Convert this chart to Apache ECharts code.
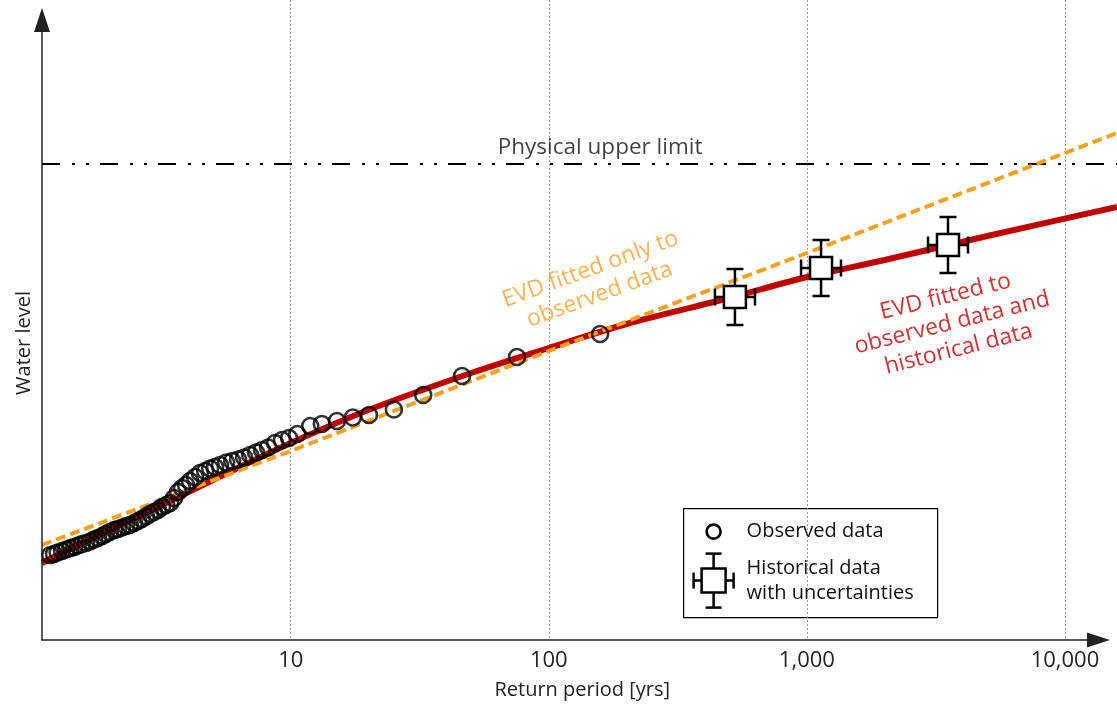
<!DOCTYPE html>
<html><head><meta charset="utf-8">
<script src="https://cdn.jsdelivr.net/npm/echarts@6/dist/echarts.min.js"></script>
<style>html,body{margin:0;padding:0;background:#fff}#c{width:1117px;height:714px}</style>
</head><body><div id="c"></div>
<script>
// ---- data (return period in years, water level in arbitrary units) ----
const obsPeriod = [1.17,1.21,1.25,1.3,1.35,1.4,1.45,1.5,1.55,1.61,
  1.67,1.73,1.79,1.86,1.92,1.99,2.07,2.14,2.22,2.3,
  2.38,2.47,2.56,2.65,2.75,2.85,2.95,3.06,3.17,3.29,
  3.41,3.53,3.66,3.79,3.93,4.07,4.26,4.45,4.66,4.87,
  5.09,5.32,5.62,5.93,6.25,6.6,6.96,7.34,7.74,8.17,
  8.69,9.25,9.85,10.6,11.9,13.2,15.1,17.4,20.1,25.1,
  32.6,46.1,75.3,158];
const obsLevel = [0.85,0.86,0.875,0.89,0.905,0.92,0.93,0.945,0.96,0.97,
  0.985,1.005,1.02,1.04,1.06,1.08,1.10,1.11,1.125,1.14,
  1.15,1.17,1.19,1.21,1.235,1.26,1.28,1.30,1.33,1.35,
  1.37,1.42,1.48,1.52,1.55,1.59,1.63,1.67,1.69,1.715,
  1.73,1.75,1.775,1.79,1.805,1.825,1.85,1.875,1.90,1.925,
  1.97,2.00,2.02,2.06,2.14,2.16,2.19,2.225,2.25,2.305,
  2.45,2.64,2.83,3.06];

const histPeriod = [526, 1134, 3520];
const histPeriodLow = [440, 949, 2946];
const histPeriodHigh = [629, 1355, 4208];
const histLevel = [3.43, 3.72, 3.95];
const histLevelErr = [0.28, 0.28, 0.28];

const fitBothPeriod = [1.087, 1.5, 2, 3, 5, 10, 20, 50, 100, 200, 500, 1000, 2000, 5000, 15900];
const fitBothLevel = [0.77, 0.95, 1.105, 1.32, 1.60, 1.97, 2.30, 2.67, 2.92, 3.16, 3.42, 3.63, 3.80, 4.04, 4.33];

const fitObsPeriod = [1.087, 10, 100, 1000, 10000, 15900];
const fitObsLevel = [0.95, 1.89, 2.89, 3.87, 4.87, 5.07];

const upperLimitLevel = 4.76;
const upperLimitSpan = [1.087, 15900];

// visible axis range (ends at the arrow) and full plotting range (to the picture edge)
const xAxisRange = [1.087, 13490];
const xPlotRange = [1.087, 15900];
const yAxisRange = [0, 6.2];
const yPlotRange = [0, 6.4];

const annotationText = ['Physical upper limit', 'EVD fitted only to\nobserved data', 'EVD fitted to\nobserved data and\nhistorical data'];
const annotationPeriod = [158, 151, 3650];
const annotationLevel = [4.92, 3.58, 3.17];

// ---- styling ----
const FONT = "'Open Sans', 'Noto Sans', sans-serif";
const RED = '#C00000';
const ORANGE = '#F4A020';
const ORANGE_TEXT = '#F0A030';

const chart = echarts.init(document.getElementById('c'), null, {renderer: 'canvas'});

const annotationStyles = [
  {color: '#111', rotate: 0, size: 22.5},
  {color: ORANGE_TEXT, rotate: 20, size: 23},
  {color: RED, rotate: 14, size: 23}
];

const option = {
  backgroundColor: '#fff',
  animation: false,
  grid: [
    {left: 42, right: 18.5, top: 20, bottom: 74, containLabel: false, outerBoundsMode: 'none'},
    {left: 42, right: 0, top: 0, bottom: 74, containLabel: false, outerBoundsMode: 'none'}
  ],
  xAxis: [
    {
      gridIndex: 0, type: 'log', logBase: 10, min: xAxisRange[0], max: xAxisRange[1], z: 10,
      name: 'Return period [yrs]', nameLocation: 'middle', nameGap: 40,
      nameTextStyle: {fontFamily: FONT, fontSize: 20, color: '#222', padding: [0, 0, 0, 24]},
      axisLine: {show: true, onZero: false, symbol: ['none', 'triangle'], symbolSize: [15, 23],
        lineStyle: {color: '#222', width: 1.5}},
      axisTick: {show: false},
      axisLabel: {fontFamily: FONT, fontSize: 22, color: '#222', margin: 10,
        showMinLabel: false, showMaxLabel: false,
        formatter: v => Math.round(v).toLocaleString('en-US')},
      splitLine: {show: false}
    },
    {
      gridIndex: 1, type: 'log', logBase: 10, min: xPlotRange[0], max: xPlotRange[1],
      axisLine: {show: false}, axisTick: {show: false}, axisLabel: {show: false},
      splitLine: {show: true, showMinLine: false, showMaxLine: false,
        lineStyle: {color: '#9a9a9a', type: [2, 2], width: 1}}
    }
  ],
  yAxis: [
    {
      gridIndex: 0, type: 'value', min: yAxisRange[0], max: yAxisRange[1], z: 10,
      name: 'Water level', nameLocation: 'middle', nameGap: 8,
      nameTextStyle: {fontFamily: FONT, fontSize: 20, color: '#222', padding: [0, 26, 0, 0]},
      axisLine: {show: true, onZero: false, symbol: ['none', 'triangle'], symbolSize: [16, 24],
        lineStyle: {color: '#222', width: 1.5}},
      axisTick: {show: false},
      axisLabel: {show: false},
      splitLine: {show: false}
    },
    {
      gridIndex: 1, type: 'value', min: yPlotRange[0], max: yPlotRange[1],
      axisLine: {show: false}, axisTick: {show: false}, axisLabel: {show: false}, splitLine: {show: false}
    }
  ],
  series: [
    {
      name: 'Physical upper limit', type: 'line', xAxisIndex: 1, yAxisIndex: 1, clip: false, symbol: 'none', z: 2,
      data: upperLimitSpan.map(t => [t, upperLimitLevel]),
      lineStyle: {color: '#000', width: 2, type: [18, 12, 3, 11, 3, 11]}
    },
    {
      name: 'EVD fitted to observed data and historical data', type: 'line', xAxisIndex: 1, yAxisIndex: 1,
      clip: false, symbol: 'none', smooth: 0.3, z: 3,
      data: fitBothPeriod.map((t, i) => [t, fitBothLevel[i]]),
      lineStyle: {color: RED, width: 6}
    },
    {
      name: 'EVD fitted only to observed data', type: 'line', xAxisIndex: 1, yAxisIndex: 1,
      clip: false, symbol: 'none', z: 4,
      data: fitObsPeriod.map((t, i) => [t, fitObsLevel[i]]),
      lineStyle: {color: ORANGE, width: 4, type: [10, 5]}
    },
    {
      name: 'Observed data', type: 'scatter', xAxisIndex: 1, yAxisIndex: 1, z: 5,
      symbol: 'circle', symbolSize: 16,
      data: obsPeriod.map((t, i) => [t, obsLevel[i]]),
      itemStyle: {color: 'rgba(0,0,0,0)', borderColor: '#000', borderWidth: 2.6}
    },
    {
      name: 'Historical data with uncertainties', type: 'custom', xAxisIndex: 1, yAxisIndex: 1, z: 6,
      dimensions: ['period', 'level', 'low', 'high', 'err'],
      encode: {x: 0, y: 1},
      data: histPeriod.map((t, i) => [t, histLevel[i], histPeriodLow[i], histPeriodHigh[i], histLevelErr[i]]),
      renderItem: function (params, api) {
        const t = api.value(0), l = api.value(1), lo = api.value(2), hi = api.value(3), e = api.value(4);
        const c = api.coord([t, l]);
        const pL = api.coord([lo, l]), pR = api.coord([hi, l]);
        const pT = api.coord([t, l + e]), pB = api.coord([t, l - e]);
        const cap = 8.5, half = 11;
        const st = {stroke: '#000', lineWidth: 2.5, fill: null};
        return {
          type: 'group',
          children: [
            {type: 'line', shape: {x1: c[0], y1: pT[1], x2: c[0], y2: pB[1]}, style: st},
            {type: 'line', shape: {x1: pL[0], y1: c[1], x2: pR[0], y2: c[1]}, style: st},
            {type: 'line', shape: {x1: c[0] - cap, y1: pT[1], x2: c[0] + cap, y2: pT[1]}, style: st},
            {type: 'line', shape: {x1: c[0] - cap, y1: pB[1], x2: c[0] + cap, y2: pB[1]}, style: st},
            {type: 'line', shape: {x1: pL[0], y1: c[1] - cap, x2: pL[0], y2: c[1] + cap}, style: st},
            {type: 'line', shape: {x1: pR[0], y1: c[1] - cap, x2: pR[0], y2: c[1] + cap}, style: st},
            {type: 'rect', shape: {x: c[0] - half, y: c[1] - half, width: 2 * half, height: 2 * half},
              style: {stroke: '#000', lineWidth: 2.5, fill: '#fff'}}
          ]
        };
      }
    },
    {
      name: 'annotations', type: 'scatter', xAxisIndex: 1, yAxisIndex: 1, z: 7, silent: true,
      symbol: 'circle', symbolSize: 1, itemStyle: {color: 'rgba(0,0,0,0)'},
      data: annotationText.map((txt, i) => ({
        value: [annotationPeriod[i], annotationLevel[i]],
        label: {
          show: true, position: 'inside', formatter: txt,
          fontFamily: FONT, fontSize: annotationStyles[i].size, lineHeight: 27,
          align: 'center', verticalAlign: 'middle',
          color: annotationStyles[i].color, rotate: annotationStyles[i].rotate
        }
      }))
    }
  ],
  graphic: [
    {type: 'group', left: 683, top: 508, z: 100, children: [
      {type: 'rect', shape: {x: 0, y: 0, width: 254, height: 109},
        style: {fill: '#fff', stroke: '#000', lineWidth: 1.2}},
      {type: 'circle', shape: {cx: 30, cy: 23, r: 7}, style: {fill: 'none', stroke: '#000', lineWidth: 2.6}},
      {type: 'text', style: {x: 63, y: 23, text: 'Observed data', font: '20px ' + FONT, fill: '#111', verticalAlign: 'middle'}},
      {type: 'line', shape: {x1: 30, y1: 45, x2: 30, y2: 99}, style: {stroke: '#000', lineWidth: 2.5}},
      {type: 'line', shape: {x1: 22, y1: 45, x2: 38, y2: 45}, style: {stroke: '#000', lineWidth: 2.5}},
      {type: 'line', shape: {x1: 22, y1: 99, x2: 38, y2: 99}, style: {stroke: '#000', lineWidth: 2.5}},
      {type: 'line', shape: {x1: 10, y1: 72, x2: 50, y2: 72}, style: {stroke: '#000', lineWidth: 2.5}},
      {type: 'line', shape: {x1: 10, y1: 64, x2: 10, y2: 80}, style: {stroke: '#000', lineWidth: 2.5}},
      {type: 'line', shape: {x1: 50, y1: 64, x2: 50, y2: 80}, style: {stroke: '#000', lineWidth: 2.5}},
      {type: 'rect', shape: {x: 18, y: 60, width: 24, height: 24}, style: {fill: '#fff', stroke: '#000', lineWidth: 2.5}},
      {type: 'text', style: {x: 63, y: 60, text: 'Historical data', font: '20px ' + FONT, fill: '#111', verticalAlign: 'middle'}},
      {type: 'text', style: {x: 63, y: 85, text: 'with uncertainties', font: '20px ' + FONT, fill: '#111', verticalAlign: 'middle'}}
    ]}
  ]
};
chart.setOption(option);
</script>
</body></html>
